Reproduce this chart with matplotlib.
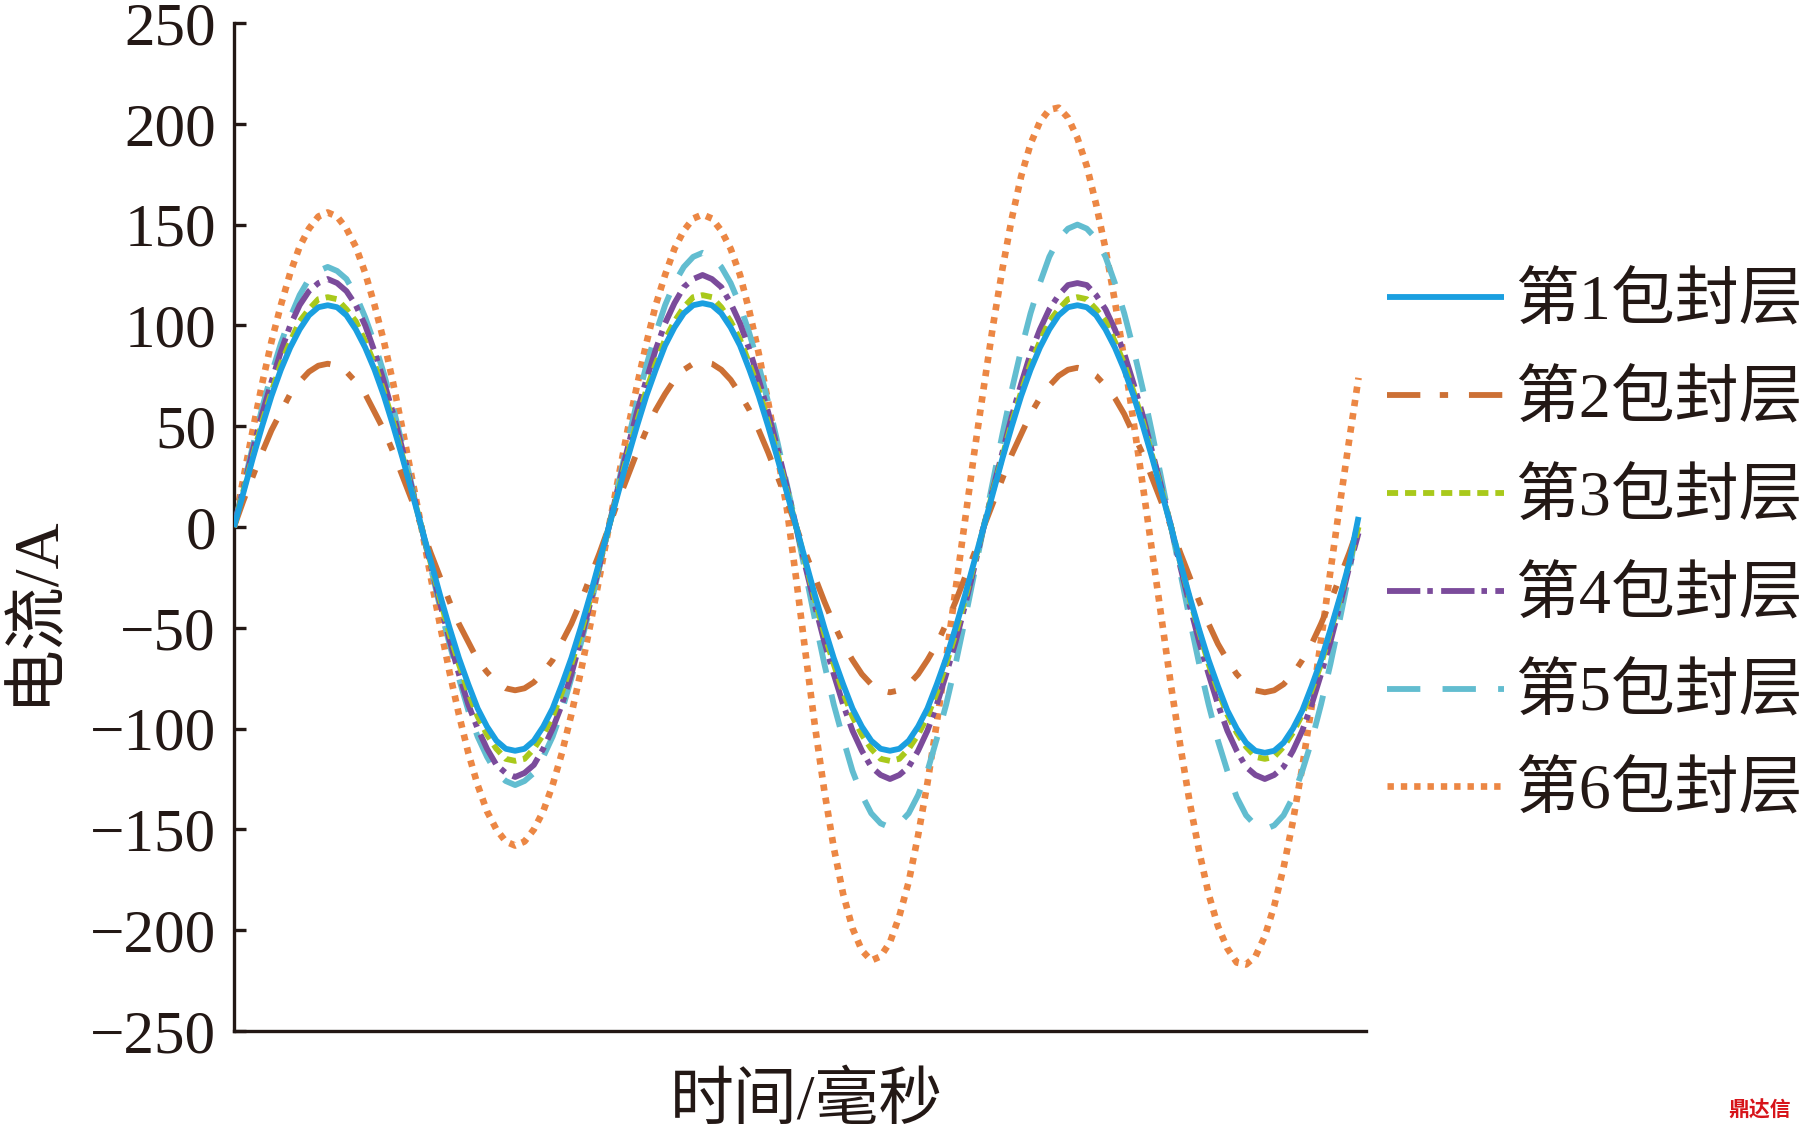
import matplotlib
matplotlib.use('Agg')
import matplotlib.pyplot as plt

time_ms = [i * 0.5 for i in range(121)]

layer1 = ([0, 17, 34, 50, 65, 78, 89, 98, 105, 109, 110, 109, 105, 98, 89, 78, 65, 50, 34, 17] +
          [0, -17, -34, -50, -65, -78, -90, -99, -106, -110, -111, -110, -106, -99, -90, -78, -65, -50, -34, -17] +
          [0, 17, 34, 50, 65, 78, 90, 99, 106, 110, 111, 110, 106, 99, 90, 78, 65, 50, 34, 17] +
          [0, -17, -34, -50, -65, -78, -90, -99, -106, -110, -111, -110, -106, -99, -90, -78, -65, -50, -34, -17] +
          [0, 17, 34, 50, 65, 78, 89, 98, 105, 109, 110, 109, 105, 98, 89, 78, 65, 50, 34, 17] +
          [0, -18, -35, -51, -66, -79, -91, -100, -107, -111, -112, -111, -107, -100, -91, -79, -66, -51, -35, -18] +
          [5])
layer2 = ([0, 13, 25, 37, 48, 57, 66, 72, 77, 80, 81, 80, 77, 72, 66, 57, 48, 37, 25, 13] +
          [0, -13, -25, -37, -48, -57, -66, -72, -77, -80, -81, -80, -77, -72, -66, -57, -48, -37, -25, -13] +
          [0, 13, 25, 37, 48, 58, 66, 73, 78, 81, 82, 81, 78, 73, 66, 58, 48, 37, 25, 13] +
          [0, -13, -25, -37, -48, -58, -66, -73, -78, -81, -82, -81, -78, -73, -66, -58, -48, -37, -25, -13] +
          [0, 12, 24, 36, 46, 56, 64, 70, 75, 78, 79, 78, 75, 70, 64, 56, 46, 36, 24, 12] +
          [0, -13, -25, -37, -48, -58, -66, -73, -78, -81, -82, -81, -78, -73, -66, -58, -48, -37, -25, -13] +
          [0])
layer3 = ([0, 18, 35, 52, 67, 81, 92, 102, 108, 113, 114, 113, 108, 102, 92, 81, 67, 52, 35, 18] +
          [0, -18, -36, -53, -68, -82, -94, -103, -110, -115, -116, -115, -110, -103, -94, -82, -68, -53, -36, -18] +
          [0, 18, 36, 52, 68, 81, 93, 102, 109, 114, 115, 114, 109, 102, 93, 81, 68, 52, 36, 18] +
          [0, -18, -36, -53, -68, -82, -94, -103, -110, -115, -116, -115, -110, -103, -94, -82, -68, -53, -36, -18] +
          [0, 18, 35, 52, 67, 81, 92, 102, 108, 113, 114, 113, 108, 102, 92, 81, 67, 52, 35, 18] +
          [0, -18, -36, -52, -68, -81, -93, -102, -109, -114, -115, -114, -109, -102, -93, -81, -68, -52, -36, -18] +
          [0])
layer4 = ([0, 19, 38, 56, 72, 87, 100, 110, 117, 121, 123, 121, 117, 110, 100, 87, 72, 56, 38, 19] +
          [0, -19, -38, -56, -73, -88, -100, -110, -118, -122, -124, -122, -118, -110, -100, -88, -73, -56, -38, -19] +
          [0, 20, 39, 57, 73, 88, 101, 111, 119, 123, 125, 123, 119, 111, 101, 88, 73, 57, 39, 20] +
          [0, -20, -39, -57, -73, -88, -101, -111, -119, -123, -125, -123, -119, -111, -101, -88, -73, -57, -39, -20] +
          [0, 19, 37, 55, 71, 86, 98, 108, 115, 120, 121, 120, 115, 108, 98, 86, 71, 55, 37, 19] +
          [0, -20, -39, -57, -73, -88, -101, -111, -119, -123, -125, -123, -119, -111, -101, -88, -73, -57, -39, -20] +
          [-3])
layer5 = ([0, 20, 40, 59, 76, 91, 104, 115, 123, 127, 129, 127, 123, 115, 104, 91, 76, 59, 40, 20] +
          [0, -20, -40, -58, -75, -91, -104, -114, -122, -126, -128, -126, -122, -114, -104, -91, -75, -58, -40, -20] +
          [0, 21, 42, 62, 80, 96, 110, 121, 129, 134, 136, 134, 129, 121, 110, 96, 80, 62, 42, 21] +
          [0, -23, -46, -68, -88, -105, -121, -133, -142, -147, -149, -147, -142, -133, -121, -105, -88, -68, -46, -23] +
          [0, 23, 46, 68, 88, 106, 121, 134, 143, 148, 150, 148, 143, 134, 121, 106, 88, 68, 46, 23] +
          [0, -23, -46, -68, -88, -106, -121, -134, -143, -148, -150, -148, -143, -134, -121, -106, -88, -68, -46, -23] +
          [6])
layer6 = ([0, 24, 48, 71, 92, 110, 126, 139, 148, 154, 156, 154, 148, 139, 126, 110, 92, 71, 48, 24] +
          [0, -25, -49, -72, -93, -112, -128, -141, -150, -156, -158, -156, -150, -141, -128, -112, -93, -72, -49, -25] +
          [0, 24, 48, 70, 91, 110, 125, 138, 147, 153, 155, 153, 147, 138, 125, 107, 86, 62, 36, 9] +
          [-26, -63, -99, -131, -159, -182, -199, -210, -215, -213, -206, -193, -176, -153, -127, -97, -65, -31, 3, 37] +
          [69, 100, 128, 153, 174, 190, 201, 207, 208, 203, 193, 179, 160, 138, 112, 83, 52, 20, -13, -46] +
          [-79, -109, -137, -161, -182, -198, -209, -216, -217, -213, -203, -188, -169, -146, -119, -89, -56, -22, 11, 43] +
          [74])

series = [layer1, layer2, layer3, layer4, layer5, layer6]
labels = ['第1包封层', '第2包封层', '第3包封层', '第4包封层', '第5包封层', '第6包封层']
y_ticks = [-250, -200, -150, -100, -50, 0, 50, 100, 150, 200, 250]

# ---- styles ----
colors = ['#1A9FE0', '#CC7035', '#A9C91B', '#7B4B9B', '#62BDD0', '#EC8744']
dash_list = [None, (24, 14, 6, 15), (8, 5), (24, 5, 4, 6), (24, 16), (4.6, 5)]
widths = [4.2, 4.2, 4.2, 4.2, 4.2, 4.8]
zorders = [3.0, 2.5, 2.8, 2.7, 2.6, 2.4]

plt.rcParams['lines.scale_dashes'] = False
FAM = ['Liberation Serif', 'Noto Sans CJK SC']
plt.rcParams['font.family'] = FAM
INK = '#231815'

fig = plt.figure(figsize=(18, 11.32), dpi=100)
ax = fig.add_axes([0.13, 0.0892, 0.6289, 0.8905])

for ys, lab, c, d, w, z in zip(series, labels, colors, dash_list, widths, zorders):
    if d is None:
        ax.plot(time_ms, ys, color=c, lw=w, label=lab, zorder=z,
                solid_capstyle='butt', solid_joinstyle='round')
    else:
        ax.plot(time_ms, ys, color=c, lw=w, label=lab, dashes=d, zorder=z,
                dash_capstyle='butt', dash_joinstyle='round')

ax.set_xlim(0, 60.4)
ax.set_ylim(-250, 250)
ax.set_yticks(y_ticks)
ax.set_xticks([])
for s in ['top', 'right']:
    ax.spines[s].set_visible(False)
for s in ['left', 'bottom']:
    ax.spines[s].set_linewidth(2.4)
    ax.spines[s].set_color(INK)
ax.tick_params(axis='y', direction='in', length=8.4, width=2.4, pad=13,
               labelsize=44, colors=INK)

ax.set_ylabel('电流/A', fontsize=46, color=INK, va='center')
ax.yaxis.set_label_coords(-0.175, 0.418)
ax.set_xlabel('时间/毫秒', fontsize=46, color=INK, va='center')
ax.xaxis.set_label_coords(0.506, -0.072)

fig.legend(loc='upper left', bbox_to_anchor=(0.7706, 0.7578), frameon=False,
           borderpad=0, borderaxespad=0, handlelength=1.83, handletextpad=0.17,
           labelspacing=0.6, prop={'family': FAM, 'size': 46},
           labelcolor=INK)

fig.text(0.995, 0.01, '鼎达信', color='#D7141A', fontsize=15, ha='right',
         va='bottom', fontweight='bold', family=['Noto Sans CJK SC'])

fig.savefig('out.png', dpi=100)
